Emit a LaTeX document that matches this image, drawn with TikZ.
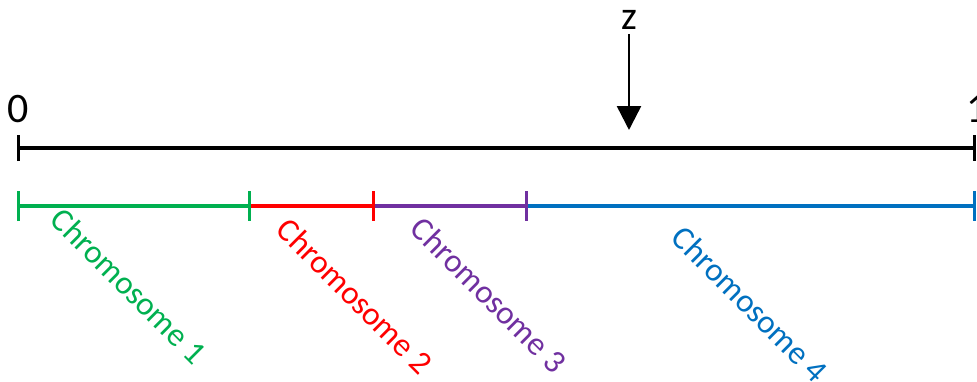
\documentclass[tikz,border=0pt]{standalone}
\usepackage{fontspec}
\setmainfont{Carlito}
\usepackage{tikz}
\usetikzlibrary{arrows.meta,positioning}

\definecolor{chrgreen}{RGB}{0,176,80}
\definecolor{chrred}{RGB}{255,0,0}
\definecolor{chrpurple}{RGB}{112,48,160}
\definecolor{chrblue}{RGB}{0,112,192}

\begin{document}
\begin{tikzpicture}[
  x=1pt, y=-1pt,
  axis/.style={line width=3.2pt, {Bar[width=26pt,line width=3.2pt]}-{Bar[width=26pt,line width=3.2pt]}},
  seg/.style={line width=3.2pt, -{Bar[width=30pt,line width=3.2pt]}},
  firstseg/.style={seg, {Bar[width=30pt,line width=3.2pt]}-{Bar[width=30pt,line width=3.2pt]}},
  endlabel/.style={font=\fontsize{42}{48}\selectfont, inner sep=0pt},
  chrlabel/.style={font=\fontsize{33}{40}\selectfont, rotate=-45, inner sep=0pt},
]
  \useasboundingbox (0,0) rectangle (977,381);

  % Unit interval
  \coordinate (a0) at (17,148);
  \coordinate (a1) at (976,148);
  \node[endlabel] (zero) at (18,109) {0};
  \node[endlabel] (one) at (977,109) {1};
  \draw[axis] (a0) -- (a1);

  % Point z
  \node[endlabel, font=\fontsize{40}{46}\selectfont] (z) at (629,20) {z};
  \coordinate (ztip) at (629,130);
  \draw[line width=2.5pt, -{Triangle[width=24pt,length=24pt]}, shorten <=4pt] (z) -- (ztip);

  % Chromosome boundaries
  \coordinate (c0) at (17,206);
  \coordinate (c1) at (251,206);
  \coordinate (c2) at (375,206);
  \coordinate (c3) at (528,206);
  \coordinate (c4) at (976,206);

  \draw[seg, chrblue] (c3) -- (c4);
  \draw[seg, chrpurple] (c2) -- (c3);
  \draw[seg, chrred] (c1) -- (c2);
  \draw[firstseg, chrgreen] (c0) -- (c1);

  % Labels
  \node[chrlabel, text=chrgreen] (chr1) at (129,286) {Chromosome 1};
  \node[chrlabel, text=chrred] (chr2) at (355,296) {Chromosome 2};
  \node[chrlabel, text=chrpurple] (chr3) at (489,295) {Chromosome 3};
  \node[chrlabel, text=chrblue] (chr4) at (750,304) {Chromosome 4};
\end{tikzpicture}
\end{document}
